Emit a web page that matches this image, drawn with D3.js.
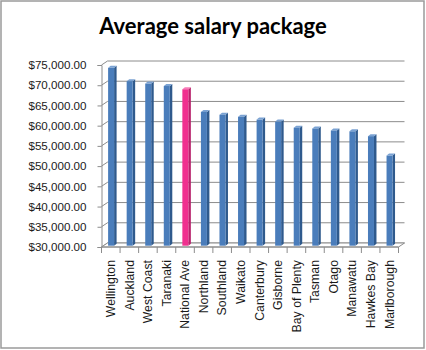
<!DOCTYPE html>
<html><head><meta charset="utf-8">
<script src="https://cdn.jsdelivr.net/npm/d3@7"></script>
<style>body{margin:0;background:#fff}svg{display:block}</style>
</head><body>
<script>
const categories = ["Wellington","Auckland","West Coast","Taranaki","National Ave","Northland","Southland","Waikato","Canterbury","Gisborne","Bay of Plenty","Tasman","Otago","Manawatu","Hawkes Bay","Marlborough"];
const salaries = [74300,71000,70400,69800,69000,63400,62700,62200,61500,61000,59500,59300,58800,58600,57400,52600];
const highlight = ["National Ave"];
const yTicks = [30000,35000,40000,45000,50000,55000,60000,65000,70000,75000];
const title = "Average salary package";

const W = 426, H = 350;
const svg = d3.select("body").append("svg").attr("width", W).attr("height", H);
svg.append("rect").attr("x",1).attr("y",1).attr("width",423).attr("height",347)
  .attr("fill","#fff").attr("stroke","#9a9a9a").attr("stroke-width",1.5);

svg.append("text").attr("x",213).attr("y",34).attr("text-anchor","middle")
  .attr("font-family","Lato, 'Open Sans', sans-serif").attr("font-weight","bold")
  .attr("font-size",22).attr("fill","#000").text(title);

const x = d3.scaleBand().domain(categories).range([101.5, 398.5]).padding(0);
const y = d3.scaleLinear().domain([30000, 75000]).range([247, 65]);
const dx = 6, dy = -4;       // back wall offset
const bdx = 2.5, bdy = -2;   // bar depth offset

const g = svg.append("g");
yTicks.forEach(v => {
  const yy = y(v);
  g.append("line").attr("x1",x.range()[0]+dx).attr("x2",x.range()[1]+dx)
    .attr("y1",yy+dy).attr("y2",yy+dy).attr("stroke","#8c8c8c").attr("stroke-width",1);
  g.append("line").attr("x1",x.range()[0]).attr("x2",x.range()[0]+dx)
    .attr("y1",yy).attr("y2",yy+dy).attr("stroke","#8c8c8c").attr("stroke-width",1);
});
const x0 = x.range()[0], x1 = x.range()[1], yf = y(30000);
g.append("path").attr("d",`M${x0},${yf}L${x1},${yf}L${x1+dx},${yf+dy}L${x0+dx},${yf+dy}Z`)
  .attr("fill","#fff").attr("stroke","#8c8c8c").attr("stroke-width",1);

const yAxis = d3.axisLeft(y).tickValues(yTicks).tickSize(4).tickPadding(11)
  .tickFormat(d => "$" + d3.format(",.2f")(d));
const ya = svg.append("g").attr("transform",`translate(${x0},0)`).call(yAxis);
ya.select(".domain").attr("stroke","#8c8c8c");
ya.selectAll(".tick line").attr("stroke","#8c8c8c");
ya.selectAll("text").attr("font-family","'Liberation Sans', Arial, sans-serif")
  .attr("font-size",11.6).attr("fill","#1a1a1a");

const bw = 6, off = 6.6;
const bars = svg.append("g").selectAll("g").data(categories).join("g");
bars.each(function(c, i) {
  const sel = d3.select(this);
  const hl = highlight.includes(c);
  const front = hl ? "#f0308f" : "#4a7dbb";
  const side = hl ? "#b8216b" : "#2f5a8d";
  const top = hl ? "#f77bb8" : "#7aa2d3";
  const bx = x(c) + off, by = y(salaries[i]), bb = yf - 1.3;
  sel.append("path").attr("d",`M${bx+bw},${by}L${bx+bw+bdx},${by+bdy}L${bx+bw+bdx},${bb+bdy}L${bx+bw},${bb}Z`).attr("fill",side);
  sel.append("path").attr("d",`M${bx},${by}L${bx+bdx},${by+bdy}L${bx+bw+bdx},${by+bdy}L${bx+bw},${by}Z`).attr("fill",top);
  sel.append("rect").attr("x",bx).attr("y",by).attr("width",bw).attr("height",bb-by).attr("fill",front);
});

const xa = svg.append("g").attr("transform",`translate(0,${yf})`);
xa.append("line").attr("x1",x0).attr("x2",x1).attr("stroke","#8c8c8c");
categories.concat(["__end"]).forEach((c, i) => {
  const xx = i < categories.length ? x(c) : x1;
  xa.append("line").attr("x1",xx).attr("x2",xx).attr("y1",0).attr("y2",6).attr("stroke","#8c8c8c");
});
xa.selectAll("text.lbl").data(categories).join("text").attr("class","lbl")
  .attr("transform", d => `translate(${x(d)+x.bandwidth()/2},13) rotate(-90)`)
  .attr("text-anchor","end").attr("dy","0.35em")
  .attr("font-family","'Liberation Sans', Arial, sans-serif").attr("font-size",12.3)
  .attr("fill","#1a1a1a").text(d => d);
</script>
</body></html>
